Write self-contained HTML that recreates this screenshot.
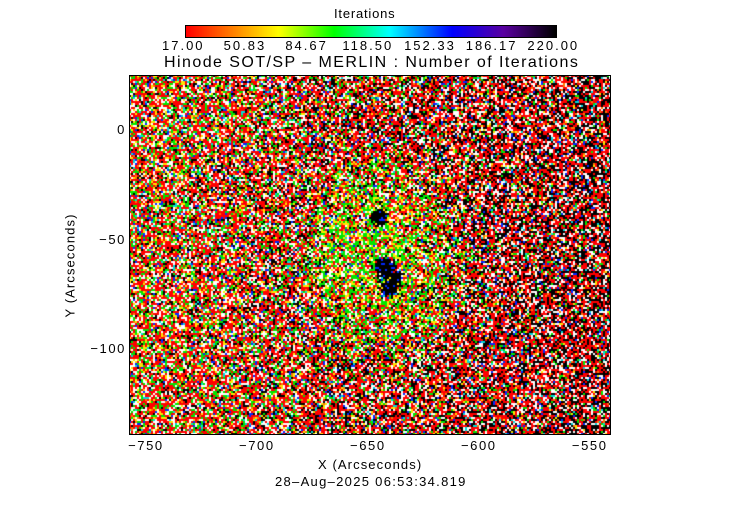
<!DOCTYPE html>
<html><head><meta charset="utf-8"><style>
body{margin:0;background:#fff;width:739px;height:512px;overflow:hidden;font-family:"Liberation Sans",sans-serif}
#wrap{position:relative;width:739px;height:512px}
canvas{position:absolute}
.t{position:absolute;font-size:13px;color:#000;white-space:nowrap;letter-spacing:0.8px}
</style></head><body>
<div id="wrap">
<div class="t" style="left:334px;top:6px">Iterations</div>
<canvas id="cb" width="370" height="11" style="left:185px;top:25px;border:1px solid #000;box-sizing:border-box"></canvas>
<div id="cbt"></div>
<div class="t" style="left:164px;top:54px;font-size:16px;letter-spacing:1.45px">Hinode SOT/SP – MERLIN : Number of Iterations</div>
<canvas id="img" width="482" height="360" style="left:129px;top:75px"></canvas>
<div style="position:absolute;left:129px;top:75px;width:482px;height:360px;border:1px solid #000;box-sizing:border-box"></div>
<div id="axes"></div>
<div class="t" style="left:318px;top:457px;letter-spacing:1.1px">X (Arcseconds)</div>
<div class="t" style="left:18px;top:258px;transform:rotate(-90deg);transform-origin:center;letter-spacing:1.1px">Y (Arcseconds)</div>
<div class="t" style="left:275px;top:474px;letter-spacing:1.3px">28–Aug–2025 06:53:34.819</div>
</div>
<script>
const cbTicks=["17.00","50.83","84.67","118.50","152.33","186.17","220.00"];
const xTicks=[-750,-700,-650,-600,-550];
const yTicks=[0,-50,-100];
const xRange=[-758.6,-541.4];
const yRange=[25,-139];
// sunspot umbra blobs: [x, y, radius] in arcsec
const umbraX=[-645.5,-643,-641,-638];
const umbraY=[-40,-63,-72,-67];
const umbraR=[3.5,4.5,4,3];
// green penumbra ring center/radius
const ringCenter=[-645,-58];
const ringRadius=[12,42];

const stops=[[0,[255,0,0]],[0.25,[255,255,0]],[0.4,[0,255,0]],[0.55,[0,255,255]],[0.72,[0,0,255]],[0.86,[90,0,160]],[1,[0,0,0]]];
function cmap(t){for(let i=1;i<stops.length;i++){if(t<=stops[i][0]){const a=stops[i-1],b=stops[i];const f=(t-a[0])/(b[0]-a[0]);return a[1].map((v,k)=>Math.round(v+(b[1][k]-v)*f));}}return [0,0,0];}
const cb=document.getElementById('cb').getContext('2d');
for(let i=0;i<370;i++){const c=cmap(i/369);cb.fillStyle=`rgb(${c})`;cb.fillRect(i,0,1,11);}
const cbt=document.getElementById('cbt');
cbTicks.forEach((s,i)=>{const d=document.createElement('div');


d.className='t';d.textContent=s;d.style.letterSpacing='2px';d.style.left=(185+i*370/6-s.length*4.6)+'px';d.style.top='38px';cbt.appendChild(d);});
const X0=129,Y0=75,W=482,H=360;
const sx=v=>X0+(v-xRange[0])/(xRange[1]-xRange[0])*W;
const sy=v=>Y0+(v-yRange[0])/(yRange[1]-yRange[0])*H;
const ax=document.getElementById('axes');
xTicks.forEach(v=>{const d=document.createElement('div');


d.className='t';d.textContent=String(v).replace('-','−');d.style.letterSpacing='1.6px';d.style.left=(sx(v)-20)+'px';d.style.top='438px';ax.appendChild(d);});
yTicks.forEach(v=>{const d=document.createElement('div');


d.className='t';d.textContent=String(v).replace('-','−');d.style.letterSpacing='1.6px';d.style.right=(739-126)+'px';d.style.top=(sy(v)-8)+'px';ax.appendChild(d);});
// deterministic hash texture
function h(i,j,k){let n=i*374761393+j*668265263+k*1442695041;n=(n^(n>>>13))*1274126177;n=n^(n>>>16);return ((n>>>0)%100000)/100000;}
const g=document.getElementById('img').getContext('2d');
const C={r:[255,0,0],o:[255,120,0],y:[255,230,0],g:[0,230,0],c:[0,220,220],b:[0,40,255],k:[0,0,0],w:[255,255,255]};
function pick(w,r){let s=0;for(const k in w)s+=w[k];let u=r*s;for(const k in w){u-=w[k];if(u<=0)return C[k];}return C.k;}
const cs=2;
for(let j=0;j<H/cs;j++)for(let i=0;i<W/cs;i++){
 const px=X0+i*cs+1,py=Y0+j*cs+1;
 const xv=xRange[0]+(px-X0)/W*(xRange[1]-xRange[0]);
 const yv=yRange[0]+(py-Y0)/H*(yRange[1]-yRange[0]);
 const u=(px-X0)/W;
 let w={r:0.38,w:0.2,g:0.12*(1-u)+0.03,y:0.06*(1-u)+0.02,k:0.08+0.32*u,b:0.04,c:0.03,o:0.03};
 const d=Math.hypot(xv-ringCenter[0],(yv-ringCenter[1])*0.8);
 if(d<ringRadius[1]){const f=1-Math.max(0,(d-ringRadius[0]))/(ringRadius[1]-ringRadius[0]);w.g+=0.3*f;w.y+=0.2*f;w.k*=1-0.7*f;w.r*=1-0.35*f;}
 let col=pick(w,h(i,j,1));
 for(let q=0;q<umbraX.length;q++){if(Math.hypot(xv-umbraX[q],yv-umbraY[q])<umbraR[q]*(0.8+0.5*h(i,j,3))){col=h(i,j,2)<0.88?C.k:C.b;}}
 g.fillStyle=`rgb(${col})`;g.fillRect(i*cs,j*cs,cs,cs);
}
</script>
</body></html>
